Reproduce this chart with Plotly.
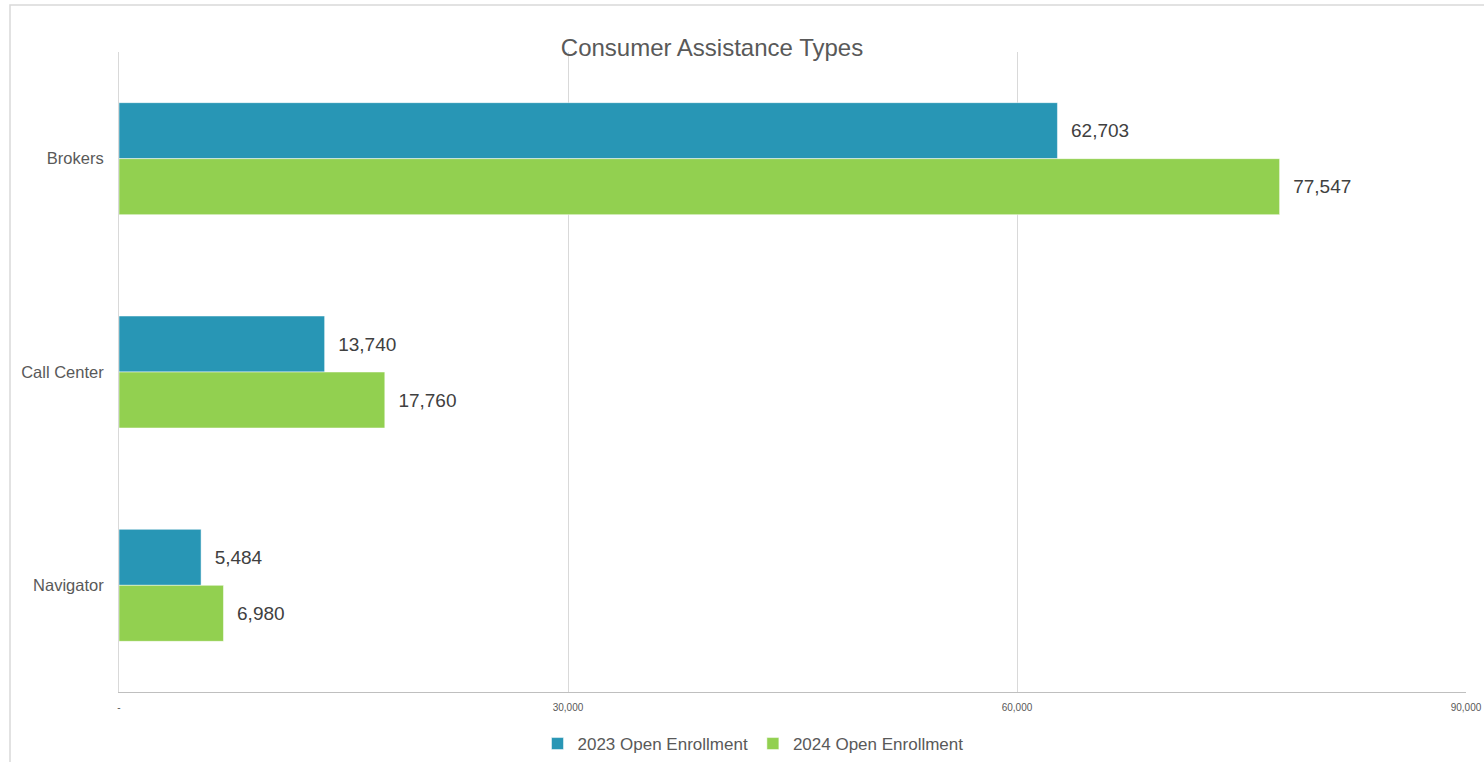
import plotly.graph_objects as go

categories = ["Brokers", "Call Center", "Navigator"]
series_names = ["2023 Open Enrollment", "2024 Open Enrollment"]
values_2023 = [62703, 13740, 5484]
values_2024 = [77547, 17760, 6980]
x_tickvals = [0, 30000, 60000, 90000]
x_ticktext = ["-", "30,000", "60,000", "90,000"]

W, H = 1484, 762
L, R, T, B = 119, 1466, 52, 692

colors = ["#2896B5", "#92D050"]
font_family = "Liberation Sans, Arial, sans-serif"

fig = go.Figure()
for name, vals, col in zip(series_names, [values_2023, values_2024], colors):
    fig.add_trace(go.Bar(
        y=categories, x=vals, name=name, orientation="h",
        marker=dict(color=col, line=dict(color="white", width=0.5)),
        texttemplate="  %{x:,}", textposition="outside",
        textfont=dict(size=19, color="#404040", family=font_family),
        cliponaxis=False,
    ))

fig.update_layout(
    width=W, height=H,
    margin=dict(l=L, r=W - R, t=T, b=H - B, pad=0, autoexpand=False),
    barmode="group", bargap=0.475, bargroupgap=0,
    plot_bgcolor="white", paper_bgcolor="white",
    font=dict(family=font_family, color="#595959"),
    title=dict(text="Consumer Assistance Types", x=712 / W, xref="container",
               y=1 - 48 / H, yref="container", xanchor="center", yanchor="middle",
               font=dict(size=24, color="#595959", family=font_family)),
    legend=dict(orientation="h", xref="container", yref="container",
                x=753 / W, y=1 - 744 / H, xanchor="center", yanchor="middle",
                font=dict(size=17, color="#595959", family=font_family),
                itemwidth=30, traceorder="normal"),
    xaxis=dict(range=[0, 90000], tickvals=x_tickvals, ticktext=x_ticktext,
               showgrid=True, gridcolor="#D9D9D9", gridwidth=1,
               showline=True, linecolor="#BFBFBF", linewidth=1,
               zeroline=False, ticks="", ticklabelstandoff=6, automargin=False,
               tickfont=dict(size=10, color="#595959", family=font_family)),
    yaxis=dict(categoryorder="array", categoryarray=categories, autorange="reversed",
               showline=True, linecolor="#D9D9D9", linewidth=1, showgrid=False,
               ticks="", ticklabelstandoff=11, automargin=False,
               tickfont=dict(size=16.5, color="#595959", family=font_family)),
    shapes=[dict(type="rect", xref="paper", yref="paper",
                 x0=(10 - L) / (R - L), x1=(W + 5 - L) / (R - L),
                 y0=(B - (H + 5)) / (B - T), y1=(B - 5) / (B - T),
                 line=dict(color="#D9D9D9", width=1.5), fillcolor="rgba(0,0,0,0)",
                 layer="below")],
)

fig.write_html(
    "out.html",
    config={"displayModeBar": False},
    post_script="document.body.style.margin='0';document.body.style.overflow='hidden';",
)
